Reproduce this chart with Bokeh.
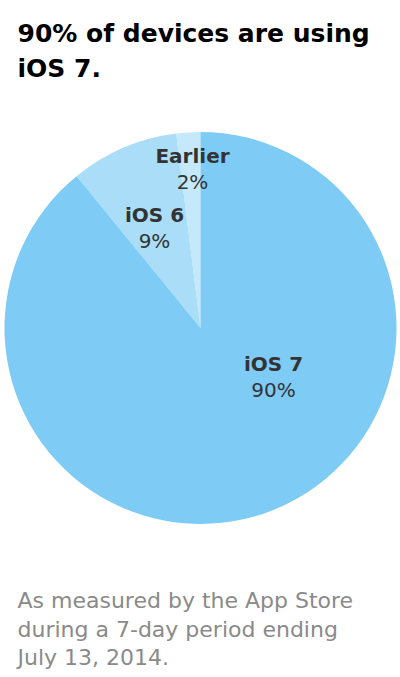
import math
from bokeh.plotting import figure
from bokeh.models import Range1d, ColumnDataSource
from bokeh.core.properties import value
from bokeh.embed import file_html
from bokeh.resources import INLINE

# ---- data ----
labels = ["Earlier", "iOS 6", "iOS 7"]
percents = [2, 9, 90]
colors = ["#C5E9FB", "#A9DDF8", "#7ECBF5"]

title_lines = ["90% of devices are using", "iOS 7."]
note_lines = ["As measured by the App Store",
              "during a 7-day period ending",
              "July 13, 2014."]

# ---- layout (page pixel coordinates; data y = H - page_y) ----
W, H = 400, 677
FONT = "DejaVu Sans"
cx, cy, R = 200, 327.5, 196
label_centers = [(192, 155), (154, 214), (273, 363)]  # page x, middle y of bold label
LINE_GAP = 26


def Y(py):
    return H - py


p = figure(width=W, height=H, output_backend="svg",
           toolbar_location=None, x_range=Range1d(0, W),
           y_range=Range1d(0, H), min_border=0)
p.axis.visible = False
p.grid.visible = False
p.outline_line_color = None
p.background_fill_color = "white"
p.border_fill_color = "white"

total = sum(percents)
starts, ends = [], []
a = math.pi / 2
for v in percents:
    starts.append(a)
    a += v / total * 2 * math.pi
    ends.append(a)

src = ColumnDataSource(dict(x=[cx] * 3, y=[Y(cy)] * 3, start=starts, end=ends,
                            color=colors, label=labels))
p.wedge(x="x", y="y", radius=R, start_angle="start", end_angle="end",
        fill_color="color", line_color=None, source=src)

# slice labels
lx = [c[0] for c in label_centers]
ly = [Y(c[1]) for c in label_centers]
p.text(x=lx, y=ly, text=labels, text_font=value(FONT), text_font_style="bold",
       text_font_size="20px", text_color="#333333", text_align="center",
       text_baseline="middle")
p.text(x=lx, y=[v - LINE_GAP for v in ly], text=[f"{v}%" for v in percents],
       text_font=value(FONT), text_font_size="20px", text_color="#333333",
       text_align="center", text_baseline="middle")

# title
p.text(x=[17, 17], y=[Y(33), Y(67.5)], text=title_lines, text_font=value(FONT),
       text_font_style="bold", text_font_size="25px", text_color="#000000",
       text_align="left", text_baseline="middle")

# footnote
p.text(x=[17, 17, 17], y=[Y(600), Y(629), Y(657)], text=note_lines,
       text_font=value(FONT), text_font_size="22px", text_color="#8a8a8a",
       text_align="left", text_baseline="middle")

open("out.html", "w").write(file_html(p, INLINE))
